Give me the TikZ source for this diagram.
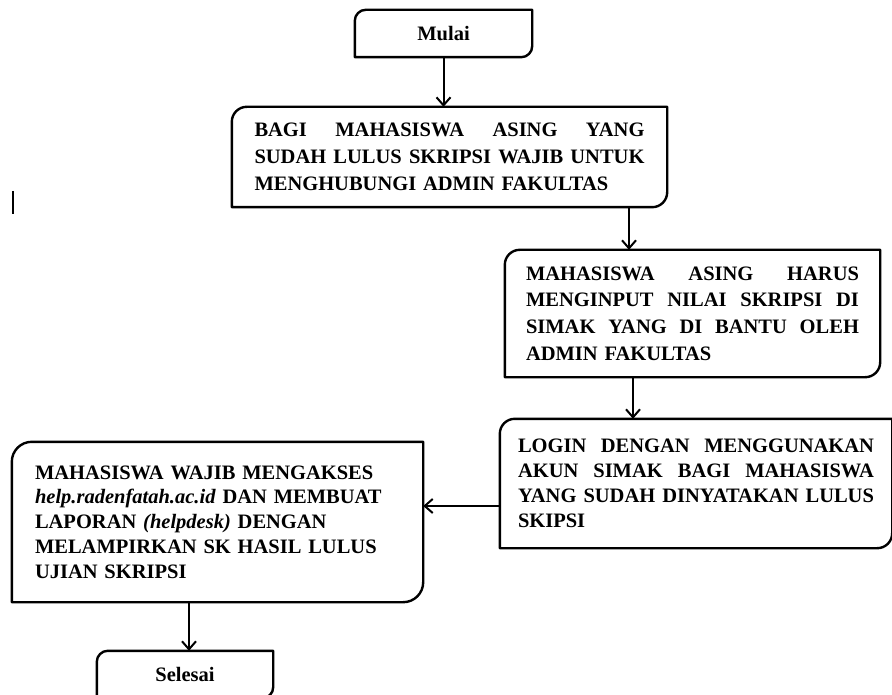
\documentclass[tikz,border=0pt]{standalone}
\usepackage{fontspec}
\setmainfont{Liberation Serif}
\usetikzlibrary{arrows.meta}
\newcommand{\cornerbox}[2]{\draw[boxline] ([yshift=-#2]#1.north west) arc[start angle=180,end angle=90,radius=#2] -- (#1.north east) -- ([yshift=#2]#1.south east) arc[start angle=0,end angle=-90,radius=#2] -- (#1.south west) -- cycle;}
\newcommand{\jl}[2]{\leavevmode\hbox to #1{#2}\\}
\newcommand{\wsp}{\hfill\ }
\begin{document}
\begin{tikzpicture}[x=1pt,y=1pt,
  boxline/.style={line width=2.4pt, line join=round},
  txt/.style={inner sep=0pt, font=\bfseries\fontsize{20.5}{26}\selectfont},
  arr/.style={line width=2pt, -{Straight Barb[length=8pt,width=14pt,line width=2pt]}}]
\useasboundingbox (0,0) rectangle (892,-695);
\fill[white] (0,0) rectangle (892,-695);

\node[txt, minimum width=177, minimum height=47] (m) at (443.5,-33.5) {Mulai};
\node[txt, minimum width=435, minimum height=100, text width=390, align=left,
  font=\bfseries\fontsize{20.5}{27.3}\selectfont] (b2) at (449.5,-157)
  {\jl{390pt}{BAGI\wsp MAHASISWA\wsp ASING\wsp YANG}\jl{390pt}{SUDAH\wsp LULUS\wsp SKRIPSI\wsp WAJIB\wsp UNTUK}MENGHUBUNGI ADMIN FAKULTAS};
\node[txt, minimum width=375, minimum height=127, text width=333, align=left,
  font=\bfseries\fontsize{20.5}{26.7}\selectfont] (b3) at (692.5,-313.5)
  {\jl{333pt}{MAHASISWA\wsp ASING\wsp HARUS}\jl{333pt}{MENGINPUT\wsp NILAI\wsp SKRIPSI\wsp DI}\jl{333pt}{SIMAK\wsp YANG\wsp DI\wsp BANTU\wsp OLEH}ADMIN FAKULTAS};
\node[txt, minimum width=392, minimum height=129, text width=356, align=left,
  font=\bfseries\fontsize{20.5}{25}\selectfont] (b4) at (696,-483.5)
  {\jl{356pt}{LOGIN\wsp DENGAN\wsp MENGGUNAKAN}\jl{356pt}{AKUN\wsp SIMAK\wsp BAGI\wsp MAHASISWA}\jl{356pt}{YANG\wsp SUDAH\wsp DINYATAKAN\wsp LULUS}SKIPSI};
\node[txt, minimum width=411, minimum height=160, text width=365, align=left,
  font=\bfseries\fontsize{20.5}{24.7}\selectfont] (b5) at (217.5,-522)
  {MAHASISWA WAJIB MENGAKSES\\ \textit{help.radenfatah.ac.id} DAN MEMBUAT\\ LAPORAN \textit{(helpdesk)} DENGAN\\ MELAMPIRKAN SK HASIL LULUS\\ UJIAN SKRIPSI};
\node[txt, minimum width=176, minimum height=47] (s) at (185,-674.5) {Selesai};

\cornerbox{m}{11pt}
\cornerbox{b2}{15pt}
\cornerbox{b3}{15pt}
\cornerbox{b4}{15pt}
\cornerbox{b5}{20pt}
\cornerbox{s}{11pt}

\coordinate (c23) at (629,0);
\coordinate (c34) at (633,0);
\coordinate (c45) at (0,-506);
\coordinate (c56) at (189,0);

\draw[arr] (m.south) -- (m.south |- b2.north);
\draw[arr] (b2.south -| c23) -- (b3.north -| c23);
\draw[arr] (b3.south -| c34) -- (b4.north -| c34);
\draw[arr] (b4.west |- c45) -- (b5.east |- c45);
\draw[arr] (b5.south -| c56) -- (s.north -| c56);

\coordinate (bar1) at (13,-191);
\coordinate (bar2) at (13,-214);
\draw[line width=2.5pt] (bar1) -- (bar2);
\end{tikzpicture}
\end{document}
